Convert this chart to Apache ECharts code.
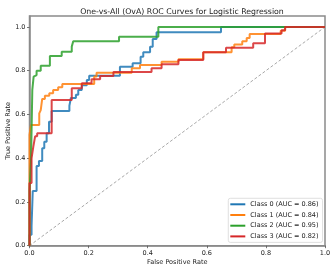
<!DOCTYPE html>
<html><head><meta charset="utf-8">
<script src="https://cdn.jsdelivr.net/npm/echarts@6/dist/echarts.min.js"></script>
<style>html,body{margin:0;padding:0;background:#fff}#c{width:335px;height:272px}</style>
</head><body><div id="c"></div>
<script>
const titleText = "One-vs-All (OvA) ROC Curves for Logistic Regression";
const xLabel = "False Positive Rate";
const yLabel = "True Positive Rate";
const classNames = ["Class 0 (AUC = 0.86)", "Class 1 (AUC = 0.84)", "Class 2 (AUC = 0.95)", "Class 3 (AUC = 0.82)"];
const classColors = ["#1f77b4", "#ff7f0e", "#2ca02c", "#d62728"];

// ROC corner points (fpr, tpr)
const class0_fpr = [0,0,0.007,0.007,0.011,0.011,0.024,0.024,0.032,0.032,0.043,0.043,0.05,0.05,0.058,0.058,0.066,0.066,0.075,0.075,0.135,0.135,0.14,0.14,0.157,0.157,0.165,0.165,0.177,0.177,0.194,0.194,0.202,0.202,0.306,0.306,0.349,0.349,0.376,0.376,0.385,0.385,0.408,0.408,0.417,0.417,0.43,0.43,0.648,0.648,1];
const class0_tpr = [0,0.05,0.05,0.09,0.09,0.25,0.25,0.364,0.364,0.387,0.387,0.445,0.445,0.475,0.475,0.514,0.514,0.567,0.567,0.616,0.616,0.64,0.64,0.675,0.675,0.69,0.69,0.712,0.712,0.733,0.733,0.758,0.758,0.777,0.777,0.818,0.818,0.834,0.834,0.864,0.864,0.884,0.884,0.91,0.91,0.945,0.945,0.976,0.976,1,1];

const class1_fpr = [0,0,0.005,0.005,0.033,0.033,0.038,0.038,0.043,0.043,0.052,0.052,0.067,0.067,0.08,0.08,0.097,0.097,0.111,0.111,0.219,0.219,0.227,0.227,0.346,0.346,0.374,0.374,0.447,0.447,0.504,0.504,0.588,0.588,0.684,0.684,0.693,0.693,0.72,0.72,0.735,0.735,0.745,0.745,0.85,0.85,0.865,0.865,1];
const class1_tpr = [0,0.506,0.506,0.552,0.552,0.605,0.605,0.62,0.62,0.671,0.671,0.686,0.686,0.697,0.697,0.712,0.712,0.724,0.724,0.739,0.739,0.773,0.773,0.791,0.791,0.811,0.811,0.826,0.826,0.841,0.841,0.852,0.852,0.884,0.884,0.907,0.907,0.92,0.92,0.935,0.935,0.95,0.95,0.968,0.968,0.983,0.983,1,1];

const class2_fpr = [0,0,0.005,0.005,0.0095,0.0095,0.014,0.014,0.02,0.02,0.024,0.024,0.038,0.038,0.069,0.069,0.109,0.109,0.143,0.143,0.148,0.148,0.303,0.303,0.436,0.436,1];
const class2_tpr = [0,0.25,0.25,0.38,0.38,0.712,0.712,0.773,0.773,0.78,0.78,0.8,0.8,0.823,0.823,0.867,0.867,0.887,0.887,0.91,0.91,0.935,0.935,0.955,0.955,1,1];

const class3_fpr = [0,0,0.007,0.007,0.013,0.013,0.019,0.019,0.026,0.026,0.075,0.075,0.143,0.143,0.177,0.177,0.21,0.21,0.239,0.239,0.284,0.284,0.413,0.413,0.447,0.447,0.504,0.504,0.588,0.588,0.665,0.665,0.757,0.757,0.797,0.797,0.853,0.853,0.865,0.865,1];
const class3_tpr = [0,0.287,0.287,0.4,0.4,0.453,0.453,0.5,0.5,0.514,0.514,0.666,0.666,0.72,0.72,0.743,0.743,0.761,0.761,0.776,0.776,0.794,0.794,0.811,0.811,0.829,0.829,0.849,0.849,0.884,0.884,0.905,0.905,0.925,0.925,0.97,0.97,0.985,0.985,1,1];

const diag_fpr = [0, 1];
const diag_tpr = [0, 1];

const xTicks = [0, 0.2, 0.4, 0.6, 0.8, 1.0];
const yTicks = [0, 0.2, 0.4, 0.6, 0.8, 1.0];

const allFpr = [class0_fpr, class1_fpr, class2_fpr, class3_fpr];
const allTpr = [class0_tpr, class1_tpr, class2_tpr, class3_tpr];
const zip = (a, b) => a.map((v, i) => [v, b[i]]);

const FONT = "DejaVu Sans";
const chart = echarts.init(document.getElementById('c'), null, {renderer: 'canvas'});
const series = [{
  type: 'line', name: 'diag', data: zip(diag_fpr, diag_tpr), symbol: 'none', silent: true,
  lineStyle: {color: '#a8a8a8', width: 1, type: [3, 2]}, z: 1
}];
classNames.forEach((n, i) => series.push({
  type: 'line', name: n, data: zip(allFpr[i], allTpr[i]), symbol: 'none',
  lineStyle: {color: classColors[i], width: 2, opacity: 0.85}, itemStyle: {color: classColors[i]}, z: 2 + i
}));

const axisCommon = {
  axisLine: {show: true, onZero: false, lineStyle: {color: '#8a8a8a', width: 1.5}},
  axisTick: {show: true, length: 2.5, lineStyle: {color: '#555', width: 0.8}},
  splitLine: {show: false},
  nameMoveOverlap: false,
  nameTextStyle: {fontFamily: FONT, fontSize: 6.5, color: '#222'},
};
chart.setOption({
  animation: false,
  backgroundColor: '#fff',
  title: {text: titleText, left: 177, top: 3, textAlign: 'center',
    textStyle: {fontFamily: FONT, fontSize: 7.8, fontWeight: 'normal', color: '#222'}},
  grid: {left: 29.5, right: 10, top: 16, bottom: 26.3, containLabel: false, outerBoundsMode: 'none',
    show: true, borderColor: '#8a8a8a', borderWidth: 1.5},
  legend: {
    data: classNames, orient: 'vertical', left: 228.3, top: 198.3,
    backgroundColor: 'rgba(255,255,255,0.85)', borderColor: '#d8d8d8', borderWidth: 0.8, borderRadius: 2,
    padding: [2, 4, 2, 2], itemGap: 2.7, itemWidth: 15, itemHeight: 2, icon: 'rect',
    textStyle: {fontFamily: FONT, fontSize: 6.5, color: '#222', lineHeight: 8, padding: [0, 0, 0, 0]}
  },
  xAxis: Object.assign({type: 'value', min: 0, max: 1, interval: 0.2, name: xLabel,
    nameLocation: 'middle', nameGap: 13,
    axisLabel: {fontFamily: FONT, fontSize: 6.5, color: '#222', margin: 4,
      formatter: v => xTicks.some(t => Math.abs(t - v) < 1e-9) ? v.toFixed(1) : ''}}, axisCommon),
  yAxis: Object.assign({type: 'value', min: 0, max: 1.05, interval: 0.2, name: yLabel,
    nameLocation: 'middle', nameGap: 18,
    axisLabel: {fontFamily: FONT, fontSize: 6.5, color: '#222', margin: 4, showMaxLabel: false,
      formatter: v => yTicks.some(t => Math.abs(t - v) < 1e-9) ? v.toFixed(1) : ''}}, axisCommon),
  series: series
});
</script></body></html>
